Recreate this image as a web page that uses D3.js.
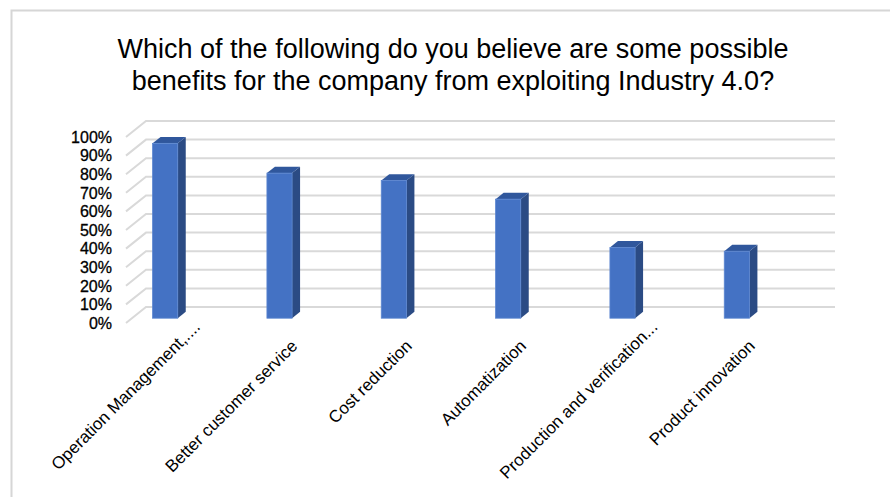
<!DOCTYPE html>
<html>
<head>
<meta charset="utf-8">
<script src="https://cdn.jsdelivr.net/npm/d3@7"></script>
<style>
  html, body { margin: 0; padding: 0; background: #fff; }
  svg { display: block; font-family: "Liberation Sans", Arial, sans-serif; }
</style>
</head>
<body>
<svg id="chart" width="890" height="497"></svg>
<script>
// Survey answers: share of respondents naming each benefit
const categories = [
  "Operation Management,....",
  "Better customer service",
  "Cost reduction",
  "Automatization",
  "Production and verification...",
  "Product innovation"
];
const values = [94, 78, 74, 64, 38, 36];
const yTicks = [0, 10, 20, 30, 40, 50, 60, 70, 80, 90, 100];
const titleLines = [
  "Which of the following do you believe are some possible",
  "benefits for the company from exploiting Industry 4.0?"
];

const svg = d3.select("#chart");
const W = 890, H = 497;

// Outer frame (top and left edges visible)
svg.append("path")
  .attr("d", `M11.5,${H} L11.5,10.5 L${W},10.5`)
  .attr("fill", "none")
  .attr("stroke", "#d6d6d6")
  .attr("stroke-width", 2);

// Title
svg.append("g").selectAll("text")
  .data(titleLines)
  .join("text")
  .attr("x", 453)
  .attr("y", (d, i) => 58 + i * 32)
  .attr("text-anchor", "middle")
  .attr("font-size", 27)
  .attr("fill", "#000")
  .text(d => d);

// Oblique 3-D frame: front plane plus a depth vector toward the back wall
const depth = { dx: 20, dy: -16 };
const wallLeft = 126, wallRight = 815;   // front-plane extent of the walls
const y = d3.scaleLinear().domain([0, 100]).range([323, 137]);
const x = d3.scaleBand().domain(categories).range([102, 788]).padding(0);
const barW = x.step() * 0.22;
const zFront = 0.3, zBack = 0.7;        // bar depth range as a fraction of full depth

// Gridlines: short diagonal on the side wall, then across the back wall
const grid = svg.append("g");
grid.selectAll("path")
  .data(yTicks)
  .join("path")
  .attr("d", t => {
    const yf = y(t);
    return `M${wallLeft},${yf} L${wallLeft + depth.dx},${yf + depth.dy} L${wallRight + depth.dx},${yf + depth.dy}`;
  })
  .attr("fill", "none")
  .attr("stroke", "#d9d9d9")
  .attr("stroke-width", 2);

// Y axis labels
svg.append("g").selectAll("text")
  .data(yTicks)
  .join("text")
  .attr("x", 112)
  .attr("y", t => y(t))
  .attr("dy", "0.36em")
  .attr("text-anchor", "end")
  .attr("font-size", 16)
  .attr("fill", "#000")
  .attr("stroke", "#000")
  .attr("stroke-width", 0.3)
  .text(t => t + "%");

// 3-D columns: front face, right side face, top face
const bars = svg.append("g").selectAll("g")
  .data(categories.map((c, i) => ({ c, v: values[i] })))
  .join("g");

bars.each(function(d) {
  const g = d3.select(this);
  const cx = x(d.c) + x.bandwidth() / 2;
  const fx = cx - barW / 2 + depth.dx * zFront;
  const fy0 = y(0) + depth.dy * zFront;
  const fy1 = y(d.v) + depth.dy * zFront;
  const ddx = depth.dx * (zBack - zFront);
  const ddy = depth.dy * (zBack - zFront);
  // side
  g.append("path")
    .attr("d", `M${fx + barW},${fy0} L${fx + barW + ddx},${fy0 + ddy} L${fx + barW + ddx},${fy1 + ddy} L${fx + barW},${fy1} Z`)
    .attr("fill", "#2b4b84");
  // top
  g.append("path")
    .attr("d", `M${fx},${fy1} L${fx + ddx},${fy1 + ddy} L${fx + barW + ddx},${fy1 + ddy} L${fx + barW},${fy1} Z`)
    .attr("fill", "#30579c");
  // front
  g.append("rect")
    .attr("x", fx)
    .attr("y", fy1)
    .attr("width", barW)
    .attr("height", fy0 - fy1)
    .attr("fill", "#4472c4")
    .attr("stroke", "#5b86d0")
    .attr("stroke-width", 0.8);
});

// Category labels, rotated 45 degrees and end-anchored below each column;
// truncated labels sit further up along their reading direction
svg.append("g").selectAll("text")
  .data(categories)
  .join("text")
  .attr("transform", c => {
    let ax = x(c) + x.bandwidth() / 2 + 25;
    let ay = 347;
    if (c.endsWith("...")) { ax += 17; ay -= 19; }
    return `translate(${ax},${ay}) rotate(-45)`;
  })
  .attr("text-anchor", "end")
  .attr("font-size", 17)
  .attr("fill", "#000")
  .text(c => c);
</script>
</body>
</html>
